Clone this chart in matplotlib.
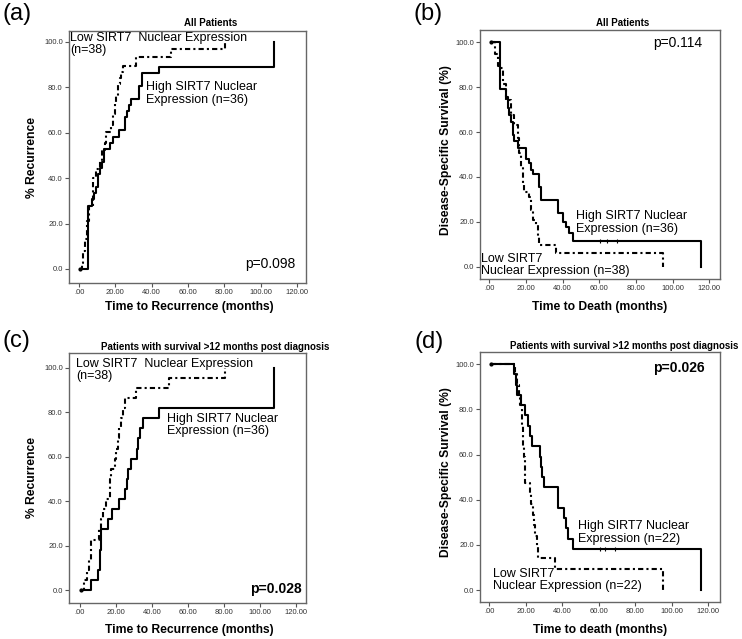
import matplotlib
matplotlib.use('Agg')
import matplotlib.pyplot as plt

plt.rcParams['font.family'] = ['Liberation Sans', 'DejaVu Sans']

W, H = 742, 639

months = [0, 20, 40, 60, 80, 100, 120]
month_labels = ['.00', '20.00', '40.00', '60.00', '80.00', '100.00', '120.00']
pct = [0, 20, 40, 60, 80, 100]
pct_labels = ['0.0', '20.0', '40.0', '60.0', '80.0', '100.0']

# (a) recurrence, all patients
a_high_t = [0.5, 5.0, 6.9, 8.4, 9.6, 10.7, 11.5, 12.4, 13.6, 16.9, 18.7, 21.8, 25.6, 26.5, 27.5, 28.7, 33.3, 34.7, 43.8, 107.5]
a_high_v = [0, 27.8, 30.6, 33.3, 36.1, 41.7, 44.4, 47.2, 52.8, 55.6, 58.3, 61.1, 66.7, 69.4, 72.2, 75.0, 80.6, 86.1, 88.9, 100]
a_low_t = [0.5, 1.5, 2.4, 3.5, 4.5, 5.6, 7.8, 9.5, 11.5, 12.4, 14.2, 15.1, 17.8, 18.7, 19.6, 20.5, 21.5, 22.4, 23.3, 24.2, 31.5, 50.5, 80.5]
a_low_v = [0, 2.6, 7.9, 13.2, 21.0, 27.6, 40.0, 43.8, 47.4, 52.6, 55.3, 60.5, 63.2, 68.4, 73.7, 76.3, 81.6, 84.2, 86.8, 89.5, 93.4, 97.0, 100]

# (b) disease-specific survival, all patients
b_high_t = [1.0, 5.8, 9.1, 10.0, 10.9, 11.8, 12.7, 13.6, 15.5, 20.0, 21.8, 22.7, 23.6, 27.3, 28.2, 37.3, 40.0, 41.8, 43.6, 45.5, 115.5]
b_high_v = [100, 79.4, 75.8, 70.6, 67.6, 64.7, 58.8, 55.9, 52.9, 47.8, 46.0, 43.0, 41.2, 35.3, 29.7, 23.8, 19.8, 17.6, 14.9, 11.6, 0]
b_low_t = [1.0, 3.0, 4.5, 6.0, 7.3, 9.1, 11.8, 13.6, 15.5, 16.4, 17.3, 18.2, 19.1, 21.8, 22.7, 23.6, 25.5, 26.4, 27.3, 36.4, 94.5]
b_low_v = [100, 94.7, 89.5, 88.4, 81.6, 74.3, 67.6, 63.2, 57.2, 50.5, 44.6, 37.1, 33.4, 31.2, 25.3, 20.8, 18.6, 13.4, 9.7, 6.2, 0]
b_cens_t = [60.4, 64.0, 69.5]
b_cens_v = [11.6, 11.6, 11.6]

# (c) recurrence, survival > 12 months
c_high_t = [0.5, 6.4, 10.0, 11.2, 12.0, 15.6, 18.0, 21.5, 25.3, 26.0, 27.0, 28.5, 31.7, 32.5, 33.5, 34.8, 44.0, 108.0]
c_high_v = [0, 4.5, 9.1, 18.2, 27.3, 31.8, 36.4, 40.9, 45.5, 50.0, 54.5, 59.1, 63.6, 68.2, 72.7, 77.3, 81.8, 100]
c_low_t = [0.5, 2.4, 4.0, 5.0, 6.4, 10.6, 11.9, 12.8, 14.3, 16.5, 16.9, 17.4, 19.3, 20.2, 21.1, 22.0, 22.9, 23.9, 24.8, 31.2, 49.5, 80.4]
c_low_v = [0, 4.5, 9.1, 13.6, 22.7, 27.3, 31.8, 36.4, 40.9, 45.5, 50.0, 54.5, 59.1, 63.6, 68.2, 72.7, 77.3, 81.8, 86.4, 90.9, 95.5, 100]

# (d) disease-specific survival, survival > 12 months
d_high_t = [0.9, 13.8, 14.5, 15.2, 17.4, 19.6, 21.3, 22.5, 23.4, 27.8, 28.3, 28.9, 29.8, 37.5, 40.8, 42.0, 43.3, 45.7, 116.1]
d_high_v = [100, 95.5, 90.9, 86.4, 81.8, 77.3, 72.7, 68.2, 63.6, 59.1, 54.5, 50.0, 45.5, 36.4, 31.8, 27.3, 22.7, 18.2, 0]
d_low_t = [0.9, 14.0, 15.0, 16.0, 17.0, 17.8, 18.3, 18.8, 19.3, 19.8, 22.2, 22.9, 23.8, 24.6, 25.3, 26.0, 26.6, 36.0, 95.1]
d_low_v = [100, 95.5, 90.9, 86.4, 81.8, 72.7, 63.6, 59.1, 52.3, 47.6, 42.9, 38.1, 33.3, 28.6, 23.8, 19.0, 14.3, 9.5, 0]
d_cens_t = [60.7, 63.4, 68.9]
d_cens_v = [18.2, 18.2, 18.2]


def px(x, y):
    return x / W, 1 - y / H


def make_axes(fig, l, t, r, b, xlim, ylim):
    ax = fig.add_axes([l / W, 1 - b / H, (r - l) / W, (b - t) / H])
    ax.set_xlim(*xlim)
    ax.set_ylim(*ylim)
    ax.set_xticks(months)
    ax.set_xticklabels(month_labels)
    ax.set_yticks(pct)
    ax.set_yticklabels(pct_labels)
    ax.tick_params(direction='out', length=3, width=0.8, color='#555',
                   labelsize=5.5, labelcolor='#333', pad=1.5)
    for s in ax.spines.values():
        s.set_color('#666')
        s.set_linewidth(1.0)
    return ax


def curves(ax, ht, hv, lt, lv):
    ax.step(ht, hv, where='post', color='k', lw=1.5)
    ax.step(lt, lv, where='post', color='k', lw=1.5,
            linestyle=(0, (2.5, 1.5, 1.0, 1.5)))
    ax.plot([ht[0]], [hv[0]], 'o', color='k', ms=2)


fig = plt.figure(figsize=(W / 100, H / 100), dpi=100)

ax_a = make_axes(fig, 69, 31, 306, 283, (-5.5, 125), (-6.2, 104.8))
curves(ax_a, a_high_t, a_high_v, a_low_t, a_low_v)
ax_b = make_axes(fig, 480, 30, 720, 279, (-5.1, 125.8), (-5.5, 105.5))
curves(ax_b, b_high_t, b_high_v, b_low_t, b_low_v)
ax_b.plot(b_cens_t, b_cens_v, '|', color='k', ms=3, mew=0.8)
ax_c = make_axes(fig, 69, 353, 306, 603, (-6, 125.5), (-5.8, 106.6))
curves(ax_c, c_high_t, c_high_v, c_low_t, c_low_v)
ax_d = make_axes(fig, 480, 352, 720, 602, (-5.1, 126.4), (-5.3, 105.4))
curves(ax_d, d_high_t, d_high_v, d_low_t, d_low_v)
ax_d.plot(d_cens_t, d_cens_v, '|', color='k', ms=3, mew=0.8)

# panel letters
for x, y, s in [(3, 14, '(a)'), (414, 14, '(b)'), (3, 341, '(c)'), (415, 342, '(d)')]:
    fig.text(*px(x, y), s, fontsize=17, ha='left', va='center')

# titles
title_kw = dict(fontsize=7, fontweight='bold', ha='center', va='center')
fig.text(*px(211, 23), 'All Patients', **title_kw)
fig.text(*px(623, 23), 'All Patients', **title_kw)
fig.text(*px(215, 347), 'Patients with survival >12 months post diagnosis', **title_kw)
fig.text(*px(624, 346), 'Patients with survival >12 months post diagnosis', **title_kw)

# axis labels
lab_kw = dict(fontsize=8.7, fontweight='bold', ha='center', va='center')
fig.text(*px(189, 307), 'Time to Recurrence (months)', **lab_kw)
fig.text(*px(600, 307), 'Time to Death (months)', **lab_kw)
fig.text(*px(189, 630), 'Time to Recurrence (months)', **lab_kw)
fig.text(*px(600, 630), 'Time to death (months)', **lab_kw)
fig.text(*px(32, 157), '% Recurrence', rotation=90, **lab_kw)
fig.text(*px(446, 150), 'Disease-Specific Survival (%)', rotation=90, **lab_kw)
fig.text(*px(32, 477), '% Recurrence', rotation=90, **lab_kw)
fig.text(*px(446, 472), 'Disease-Specific Survival (%)', rotation=90, **lab_kw)

# group annotations
ann_kw = dict(fontsize=9, ha='left', va='center', linespacing=1.1)
fig.text(*px(70, 44), 'Low SIRT7  Nuclear Expression\n(n=38)', **ann_kw)
fig.text(*px(146, 93.5), 'High SIRT7 Nuclear\nExpression (n=36)', **ann_kw)
fig.text(*px(576, 222.5), 'High SIRT7 Nuclear\nExpression (n=36)', **ann_kw)
fig.text(*px(481, 265), 'Low SIRT7\nNuclear Expression (n=38)', **ann_kw)
fig.text(*px(76, 370), 'Low SIRT7  Nuclear Expression\n(n=38)', **ann_kw)
fig.text(*px(167, 425), 'High SIRT7 Nuclear\nExpression (n=36)', **ann_kw)
fig.text(*px(578, 532.5), 'High SIRT7 Nuclear\nExpression (n=22)', **ann_kw)
fig.text(*px(493, 580), 'Low SIRT7\nNuclear Expression (n=22)', **ann_kw)

# p values
fig.text(*px(245, 264), 'p=0.098', fontsize=10, ha='left', va='center')
fig.text(*px(653, 43), 'p=0.114', fontsize=10, ha='left', va='center')
fig.text(*px(250, 589), 'p=0.028', fontsize=10, fontweight='bold', ha='left', va='center')
fig.text(*px(653, 368), 'p=0.026', fontsize=10, fontweight='bold', ha='left', va='center')

fig.savefig('out.png', dpi=100)
